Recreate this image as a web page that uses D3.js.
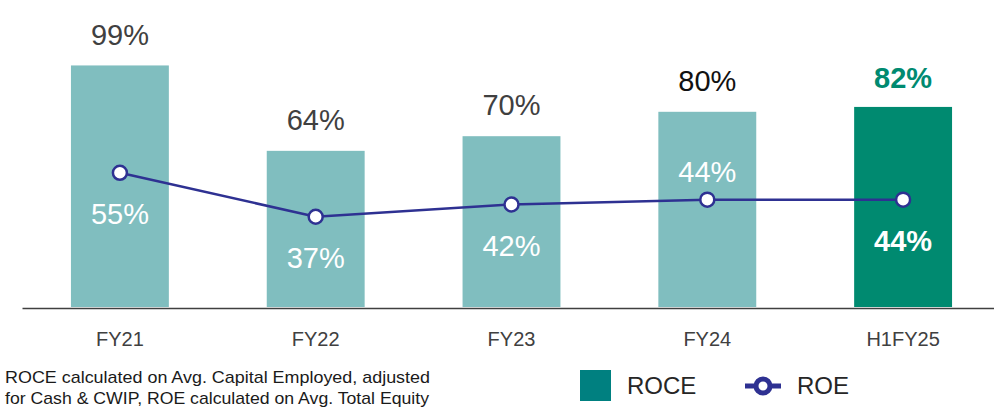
<!DOCTYPE html>
<html>
<head>
<meta charset="utf-8">
<script src="https://cdn.jsdelivr.net/npm/d3@7"></script>
<style>
  body { margin: 0; background: #fff; }
  text { font-family: "Liberation Sans", Arial, sans-serif; }
</style>
</head>
<body>
<div id="graf"></div>
<script>
// datos
var periods = ["FY21", "FY22", "FY23", "FY24", "H1FY25"]
var roce = [99, 64, 70, 80, 82]
var roe = [55, 37, 42, 44, 44]
var roeAbove = [false, false, false, true, false]   // la etiqueta de FY24 va arriba del punto
var notes = ["ROCE calculated on Avg. Capital Employed, adjusted",
             "for Cash & CWIP, ROE calculated on Avg. Total Equity"]
var noteWidths = [425, 424]

var data = periods.map((p, i) => ({ p: p, roce: roce[i], roe: roe[i], up: roeAbove[i], last: i == periods.length - 1 }))

var svg = d3.select('#graf')
            .append('svg')
            .attr('width', 994)
            .attr('height', 407)

var x = d3.scaleBand()
          .domain(periods)
          .range([22, 1001])
          .paddingInner(0.5)
          .paddingOuter(0.25)

var y = d3.scaleLinear()
          .domain([0, 100])
          .range([307, 63])

// barras ROCE
svg.selectAll('rect.bar')
  .data(data)
  .enter()
  .append('rect')
  .attr('class', 'bar')
  .attr('x', d => x(d.p))
  .attr('y', d => y(d.roce))
  .attr('width', x.bandwidth())
  .attr('height', d => y(0) - y(d.roce))
  .attr('fill', d => d.last ? '#008A70' : '#80BEBF')

// eje
var axis = svg.append('g')
  .attr('transform', 'translate(0,308)')
  .call(d3.axisBottom(x).tickSize(0).tickPadding(24))
axis.select('.domain').attr('stroke', '#404040').attr('stroke-width', 1.5)
axis.selectAll('text')
  .attr('font-size', 20)
  .attr('fill', '#404040')
  .attr('font-family', '"Liberation Sans", Arial, sans-serif')

// etiquetas ROCE
svg.selectAll('text.roce')
  .data(data)
  .enter()
  .append('text')
  .attr('class', 'roce')
  .attr('x', d => x(d.p) + x.bandwidth() / 2)
  .attr('y', d => y(d.roce) - (d.last ? 29 : 31))
  .attr('dy', '0.35em')
  .attr('text-anchor', 'middle')
  .attr('font-size', 29)
  .attr('font-weight', d => d.last ? 'bold' : 'normal')
  .attr('fill', d => d.last ? '#008A70' : (d.p == 'FY24' ? '#111111' : '#404040'))
  .text(d => d.roce + '%')

// linea ROE
var line = d3.line()
  .x(d => x(d.p) + x.bandwidth() / 2)
  .y(d => y(d.roe))

svg.append('path')
  .datum(data)
  .attr('d', line)
  .attr('fill', 'none')
  .attr('stroke', '#2E3192')
  .attr('stroke-width', 2.5)

svg.selectAll('circle.roe')
  .data(data)
  .enter()
  .append('circle')
  .attr('class', 'roe')
  .attr('cx', d => x(d.p) + x.bandwidth() / 2)
  .attr('cy', d => y(d.roe))
  .attr('r', 7)
  .attr('fill', '#fff')
  .attr('stroke', '#2E3192')
  .attr('stroke-width', 2.5)

svg.selectAll('text.roe')
  .data(data)
  .enter()
  .append('text')
  .attr('class', 'roe')
  .attr('x', d => x(d.p) + x.bandwidth() / 2)
  .attr('y', d => y(d.roe) + (d.up ? -28 : 41))
  .attr('dy', '0.35em')
  .attr('text-anchor', 'middle')
  .attr('font-size', 29)
  .attr('font-weight', d => d.last ? 'bold' : 'normal')
  .attr('fill', '#fff')
  .text(d => d.roe + '%')

// nota
svg.selectAll('text.note')
  .data(notes)
  .enter()
  .append('text')
  .attr('class', 'note')
  .attr('x', 5)
  .attr('y', (d, i) => 377 + i * 21)
  .attr('dy', '0.35em')
  .attr('font-size', 17)
  .attr('textLength', (d, i) => noteWidths[i])
  .attr('lengthAdjust', 'spacingAndGlyphs')
  .attr('fill', '#1a1a1a')
  .text(d => d)

// leyenda
svg.append('rect')
  .attr('x', 580).attr('y', 370)
  .attr('width', 31).attr('height', 31)
  .attr('fill', '#008080')
svg.append('text')
  .attr('x', 627).attr('y', 386).attr('dy', '0.35em')
  .attr('font-size', 24).attr('fill', '#262626')
  .text('ROCE')

svg.append('line')
  .attr('x1', 745).attr('x2', 781)
  .attr('y1', 386).attr('y2', 386)
  .attr('stroke', '#2E3192').attr('stroke-width', 5)
svg.append('circle')
  .attr('cx', 763).attr('cy', 386).attr('r', 7)
  .attr('fill', '#fff')
  .attr('stroke', '#2E3192').attr('stroke-width', 5)
svg.append('text')
  .attr('x', 797).attr('y', 386).attr('dy', '0.35em')
  .attr('font-size', 24).attr('fill', '#262626')
  .text('ROE')
</script>
</body>
</html>
